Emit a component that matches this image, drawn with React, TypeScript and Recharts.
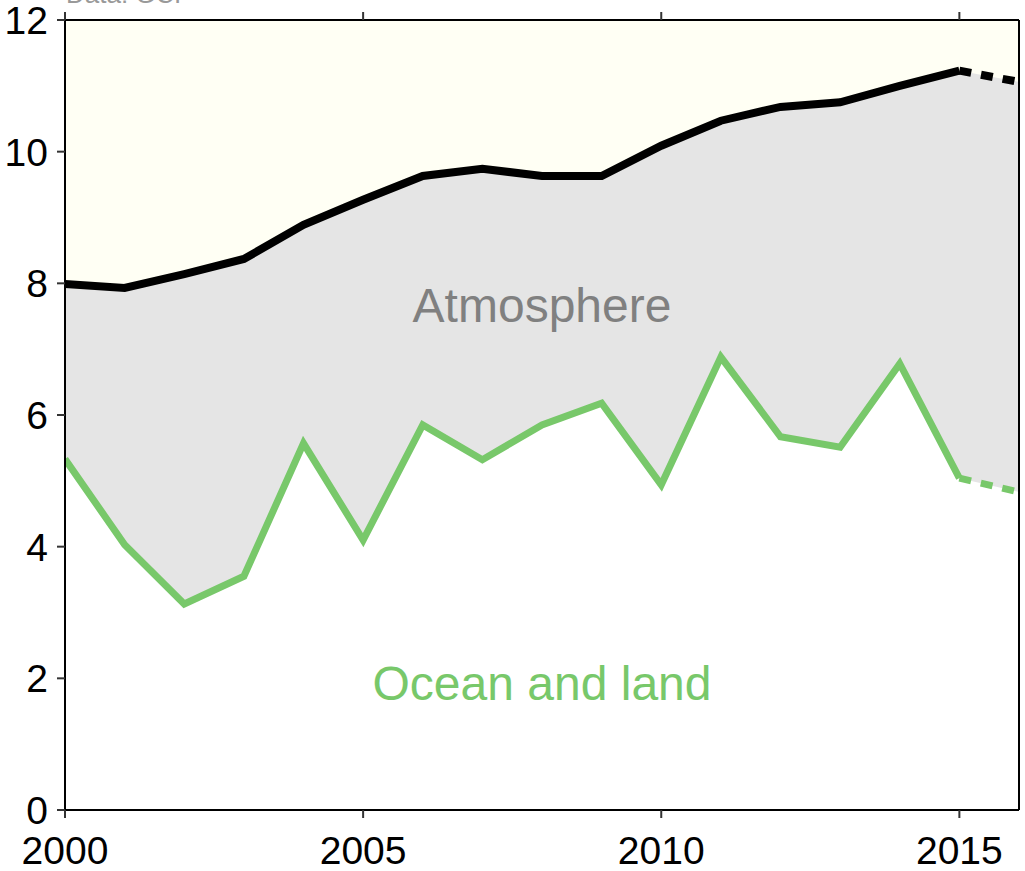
import React from 'react';
import {
  ComposedChart, Area, Line, XAxis, YAxis, CartesianGrid
} from 'recharts';

const years = [2000, 2001, 2002, 2003, 2004, 2005, 2006, 2007, 2008, 2009, 2010, 2011, 2012, 2013, 2014, 2015, 2016];
// total emissions (top black line)
const emissions = [7.99, 7.93, 8.14, 8.37, 8.89, 9.27, 9.63, 9.74, 9.63, 9.63, 10.09, 10.47, 10.68, 10.75, 11.0, 11.23, 11.06];
// ocean and land sink (green line)
const sinks = [5.33, 4.03, 3.13, 3.55, 5.57, 4.1, 5.85, 5.32, 5.85, 6.18, 4.94, 6.88, 5.67, 5.51, 6.78, 5.04, 4.83];
const projectedFrom = 2015;
const xTicks = [2000, 2005, 2010, 2015];
const yTicks = [0, 2, 4, 6, 8, 10, 12];

const FONT = '"Liberation Sans", Arial, Helvetica, sans-serif';
const GREEN = '#78c86a';

const data = years.map((year, i) => ({
  year,
  emissions: emissions[i],
  sinks: sinks[i],
  emissionsSolid: year <= projectedFrom ? emissions[i] : null,
  emissionsProj: year >= projectedFrom ? emissions[i] : null,
  sinksSolid: year <= projectedFrom ? sinks[i] : null,
  sinksProj: year >= projectedFrom ? sinks[i] : null,
}));

const tickStyle = { fontSize: 39, fill: '#000', fontFamily: FONT };
const noLabel = () => '';

export default function App() {
  return (
    <div style={{ position: 'absolute', left: 0, top: 0, width: 1025, height: 871, background: '#fff', fontFamily: FONT, overflow: 'hidden' }}>
      <ComposedChart
        width={1025}
        height={871}
        data={data}
        margin={{ top: 0, right: 0, bottom: 0, left: 0 }}
      >
        <CartesianGrid horizontal={false} vertical={false} fill="#fffff4" xAxisId="b" yAxisId="l" />
        <XAxis
          xAxisId="b"
          dataKey="year"
          type="number"
          domain={[2000, 2016]}
          ticks={xTicks}
          height={61}
          stroke="#000"
          strokeWidth={2}
          tickLine={{ stroke: '#333', strokeWidth: 2 }}
          tickSize={8}
          tickMargin={18}
          tick={tickStyle}
          interval={0}
          allowDataOverflow
        />
        <XAxis
          xAxisId="t"
          orientation="top"
          dataKey="year"
          type="number"
          domain={[2000, 2016]}
          ticks={xTicks}
          height={20}
          stroke="#000"
          strokeWidth={2}
          tickLine={{ stroke: '#333', strokeWidth: 2 }}
          tickSize={8}
          tickFormatter={noLabel}
          interval={0}
        />
        <YAxis
          yAxisId="l"
          domain={[0, 12]}
          ticks={yTicks}
          width={65}
          stroke="#000"
          strokeWidth={2}
          tickLine={{ stroke: '#333', strokeWidth: 2 }}
          tickSize={8}
          tickMargin={9}
          tick={tickStyle}
          interval={0}
        />
        <YAxis
          yAxisId="r"
          orientation="right"
          domain={[0, 12]}
          ticks={yTicks}
          width={6}
          stroke="#000"
          strokeWidth={2}
          tickLine={{ stroke: '#333', strokeWidth: 2 }}
          tickSize={6}
          tickFormatter={noLabel}
          interval={0}
        />
        <Area
          xAxisId="b"
          yAxisId="l"
          dataKey="emissions"
          type="linear"
          fill="#e5e5e5"
          fillOpacity={1}
          stroke="none"
          isAnimationActive={false}
        />
        <Area
          xAxisId="b"
          yAxisId="l"
          dataKey="sinks"
          type="linear"
          fill="#ffffff"
          fillOpacity={1}
          stroke="none"
          isAnimationActive={false}
        />
        <Line xAxisId="b" yAxisId="l" dataKey="sinksSolid" type="linear" stroke={GREEN} strokeWidth={7} dot={false} isAnimationActive={false} />
        <Line xAxisId="b" yAxisId="l" dataKey="sinksProj" type="linear" stroke={GREEN} strokeWidth={7} strokeDasharray="12 10" dot={false} isAnimationActive={false} />
        <Line xAxisId="b" yAxisId="l" dataKey="emissionsSolid" type="linear" stroke="#000" strokeWidth={8} dot={false} isAnimationActive={false} />
        <Line xAxisId="b" yAxisId="l" dataKey="emissionsProj" type="linear" stroke="#000" strokeWidth={8} strokeDasharray="12 10" dot={false} isAnimationActive={false} />
      </ComposedChart>
      <div style={{ position: 'absolute', left: 66, top: -21, fontSize: 26, color: '#999', lineHeight: '30px', whiteSpace: 'nowrap' }}>
        Data: GCP
      </div>
      <div style={{ position: 'absolute', left: 342, width: 400, top: 278, textAlign: 'center', fontSize: 48, color: '#808080', lineHeight: '56px' }}>
        Atmosphere
      </div>
      <div style={{ position: 'absolute', left: 292, width: 500, top: 656, textAlign: 'center', fontSize: 48, color: GREEN, lineHeight: '56px' }}>
        Ocean and land
      </div>
    </div>
  );
}
